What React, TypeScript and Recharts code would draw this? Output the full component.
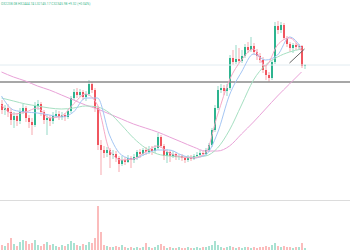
import { ComposedChart, BarChart, Bar, Line, XAxis, YAxis, ReferenceLine, Cell } from 'recharts'

const UP = '#2db48f'
const DOWN = '#f0565f'

// OHLC per candle (price units), left to right
const opens = [
  96, 90, 92, 88, 80, 84, 79, 88, 92, 82,
  78, 75, 94, 96, 88, 80, 82, 79, 84, 86,
  83, 85, 83, 89, 102, 108, 105, 108, 103, 106,
  116, 110, 92, 55, 50, 47, 50, 45, 46, 42,
  36, 40, 38, 42, 40, 43, 48, 46, 50, 48,
  51, 49, 52, 63, 54, 44, 48, 44, 46, 43,
  44, 42, 40, 43, 41, 44, 45, 47, 46, 50,
  55, 70, 92, 110, 112, 109, 112, 142, 138, 141,
  139, 144, 153, 150, 154, 148, 144, 140, 130, 125,
  122, 138, 174, 170, 175, 162, 156, 152, 155, 153,
  154, 134,
]
const closes = [
  90, 92, 88, 80, 84, 79, 88, 92, 82, 78,
  75, 94, 96, 88, 80, 82, 79, 84, 86, 83,
  85, 83, 89, 102, 108, 105, 108, 103, 106, 116,
  110, 92, 55, 50, 47, 50, 45, 46, 42, 36,
  40, 38, 42, 40, 43, 48, 46, 50, 48, 51,
  49, 52, 63, 54, 44, 48, 44, 46, 43, 44,
  42, 40, 43, 41, 44, 45, 47, 46, 50, 55,
  70, 92, 110, 112, 109, 112, 142, 138, 141, 139,
  144, 153, 150, 154, 148, 144, 140, 130, 125, 122,
  138, 174, 170, 175, 162, 156, 152, 155, 153, 154,
  134, 135,
]
const highs = [
  100, 95, 96, 92, 88, 87, 92, 96, 94, 85,
  82, 98, 100, 98, 90, 86, 85, 88, 90, 89,
  88, 87, 91, 104, 111, 112, 111, 110, 109, 120,
  118, 112, 94, 60, 54, 53, 52, 50, 49, 44,
  44, 43, 45, 44, 46, 50, 51, 52, 53, 54,
  54, 55, 67, 65, 56, 51, 50, 49, 48, 46,
  46, 44, 45, 45, 46, 48, 50, 49, 52, 57,
  72, 95, 114, 116, 115, 116, 145, 150, 155, 152,
  150, 156, 158, 163, 157, 151, 147, 143, 134, 128,
  140, 178, 179, 178, 177, 164, 158, 157, 157, 156,
  155, 136,
]
const lows = [
  86, 85, 83, 75, 72, 74, 76, 86, 78, 72,
  65, 73, 90, 84, 76, 65, 74, 76, 82, 80,
  80, 79, 81, 87, 100, 102, 103, 100, 99, 104,
  107, 88, 50, 25, 42, 43, 32, 41, 38, 28,
  34, 35, 37, 32, 37, 40, 42, 44, 45, 46,
  45, 47, 50, 52, 40, 37, 38, 42, 40, 40,
  39, 37, 38, 39, 40, 42, 43, 44, 44, 48,
  53, 68, 90, 107, 105, 104, 110, 135, 136, 137,
  137, 142, 147, 148, 145, 140, 137, 127, 120, 118,
  120, 136, 166, 167, 160, 153, 148, 147, 150, 151,
  132, 131,
]
const volumes = [
  5, 4, 7, 12, 6, 4, 8, 10, 9, 6,
  7, 10, 5, 4, 6, 8, 5, 6, 4, 3,
  5, 4, 6, 9, 7, 5, 4, 6, 5, 8,
  7, 12, 44, 18, 5, 4, 3, 3, 4, 3,
  5, 3, 2, 3, 2, 3, 2, 3, 7, 3,
  2, 3, 5, 6, 4, 2, 3, 2, 2, 3,
  2, 2, 3, 2, 2, 3, 2, 3, 3, 4,
  5, 9, 5, 3, 2, 3, 4, 3, 2, 3,
  2, 3, 3, 2, 3, 2, 3, 3, 4, 3,
  5, 7, 4, 3, 4, 3, 3, 2, 3, 3,
  7, 2,
]

// moving averages read every 4th candle
const MA_STEP = 4
const maPink = [95, 86, 88, 92, 82, 84, 96, 106, 95, 50, 40, 41, 48, 54, 47, 43, 42, 47, 85, 120, 140, 151, 134, 155, 162, 149]
const maBlue = [104, 90, 88, 87, 85, 83, 88, 102, 102, 65, 45, 41, 46, 50, 50, 45, 42, 45, 67, 105, 128, 146, 140, 145, 163, 152]
const maGreen = [102, 99, 96, 94, 92, 91, 92, 94, 93, 87, 75, 62, 52, 46, 44, 43, 43, 44, 52, 70, 95, 120, 135, 143, 148, 151]
const maLong = [128, 123, 119, 114, 110, 105, 100, 95, 91, 86, 81, 76, 72, 68, 63, 58, 53, 49, 49, 54, 66, 78, 91, 104, 116, 128]

const resistance = 118
const lastPrice = 135
const trendFrom = { x: 96, y: 137 }
const trendTo = { x: 101, y: 151 }

const data = closes.map((close, i) => ({
  idx: i,
  open: opens[i],
  close,
  high: highs[i],
  low: lows[i],
  range: [lows[i], highs[i]],
  volume: volumes[i],
}))

const maRows = (arr: number[]) => arr.map((v, k) => ({ idx: k * MA_STEP, v }))

const maLines = [
  { name: 'maLong', values: maLong, color: '#e9a2d8' },
  { name: 'maGreen', values: maGreen, color: '#a6e0c2' },
  { name: 'maBlue', values: maBlue, color: '#a4c6f4' },
  { name: 'maPink', values: maPink, color: '#f6a9c6' },
]

function Candle(props: any) {
  const { x, y, width, height, payload } = props
  const { open, close, high, low } = payload
  const color = close >= open ? UP : DOWN
  const k = height / (high - low || 1)
  const top = y + (high - Math.max(open, close)) * k
  const bot = y + (high - Math.min(open, close)) * k
  const cx = x + width / 2
  return (
    <g>
      <line x1={cx} x2={cx} y1={y} y2={y + height} stroke={color} strokeOpacity={0.5} strokeWidth={1} />
      <rect x={x} y={top} width={width} height={Math.max(bot - top, 1)} fill={color} />
    </g>
  )
}

const pad = { left: 0, right: 44 }

export default function App() {
  return (
    <div style={{ position: 'fixed', left: 0, top: 0, width: 350, height: 250, background: '#fff', fontFamily: 'Roboto, sans-serif' }}>
      <div style={{ position: 'absolute', left: 1, top: 2, fontSize: 3.3, color: '#45b98f', whiteSpace: 'nowrap', zIndex: 2 }}>
        O32238.08 H32444.74 L32145.17 C32345.98 +9.32 (+0.04%)
      </div>
      <ComposedChart width={350} height={200} data={data} margin={{ top: 0, right: 0, bottom: 0, left: 0 }}>
        <XAxis dataKey="idx" hide padding={pad} allowDuplicatedCategory={false} />
        <YAxis hide domain={[0, 200]} allowDataOverflow />
        <ReferenceLine y={lastPrice} stroke="#e2ecf1" strokeWidth={1} />
        <ReferenceLine y={resistance} stroke="#8a8a8a" strokeWidth={1.5} />
        {maLines.map((m) => (
          <Line
            key={m.name}
            data={maRows(m.values)}
            dataKey="v"
            name={m.name}
            type="monotone"
            stroke={m.color}
            strokeWidth={1}
            dot={false}
            activeDot={false}
            isAnimationActive={false}
          />
        ))}
        <Bar dataKey="range" barSize={2} shape={<Candle />} isAnimationActive={false} />
        <ReferenceLine segment={[trendFrom, trendTo]} stroke="#666" strokeWidth={1} />
      </ComposedChart>
      <div style={{ position: 'absolute', left: 0, top: 200, width: 350, height: 1, background: '#dcdcdc' }} />
      <BarChart width={350} height={50} data={data} margin={{ top: 1, right: 0, bottom: 0, left: 0 }}>
        <XAxis dataKey="idx" hide padding={pad} />
        <YAxis hide domain={[0, 49]} allowDataOverflow />
        <Bar dataKey="volume" barSize={2} isAnimationActive={false}>
          {data.map((d) => (
            <Cell key={d.idx} fill={d.close >= d.open ? '#a9e2d2' : '#fbbcbc'} />
          ))}
        </Bar>
      </BarChart>
    </div>
  )
}
